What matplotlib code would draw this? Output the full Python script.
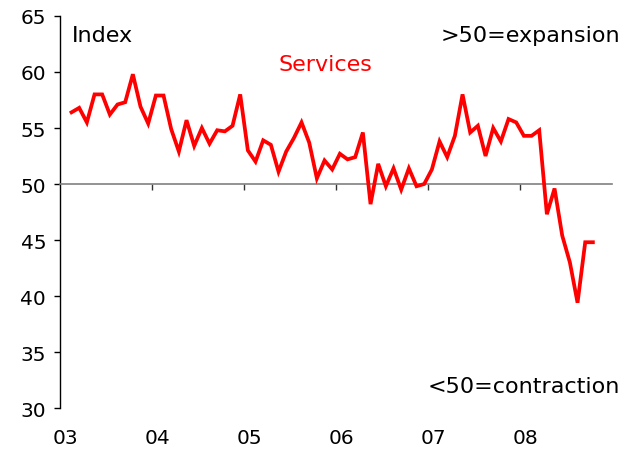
import matplotlib
matplotlib.use("Agg")
import matplotlib.pyplot as plt
import numpy as np

# Services PMI, monthly from Feb 2003 to Oct 2008
start_month = 1  # months after Jan 2003
pmi_2003 = [56.4, 56.8, 55.5, 58.0, 58.0, 56.2, 57.1, 57.3, 59.8, 56.9, 55.4]
pmi_2004 = [57.9, 57.9, 54.9, 52.9, 55.7, 53.4, 55.0, 53.6, 54.8, 54.7, 55.2, 58.0]
pmi_2005 = [53.0, 52.0, 53.9, 53.5, 51.1, 52.9, 54.1, 55.5, 53.7, 50.5, 52.1, 51.3]
pmi_2006 = [52.7, 52.2, 52.4, 54.6, 48.2, 51.8, 49.8, 51.4, 49.5, 51.4, 49.8, 50.0]
pmi_2007 = [51.3, 53.8, 52.4, 54.3, 58.0, 54.6, 55.2, 52.5, 55.0, 53.8, 55.8, 55.5]
pmi_2008 = [54.3, 54.3, 54.8, 47.3, 49.6, 45.4, 43.0, 39.4, 44.8, 44.8]

year_labels = ["03", "04", "05", "06", "07", "08"]
y_ticks = [30, 35, 40, 45, 50, 55, 60, 65]

values = pmi_2003 + pmi_2004 + pmi_2005 + pmi_2006 + pmi_2007 + pmi_2008
# plot each month at its mid point
months = start_month + np.arange(len(values)) + 0.5

FONT = "DejaVu Sans"
TICK_FS = 14.5
TEXT_FS = 16

fig = plt.figure(figsize=(6.22, 4.52), dpi=100)
ax = fig.add_axes([0.0965, 0.0951, 0.8875, 0.8673])

ax.plot(months, values, color="#FF0000", linewidth=2.7, solid_joinstyle="miter", zorder=3)

ax.set_xlim(0, 72)
ax.set_ylim(30, 65)

# x axis sits on the 50 line
ax.spines["top"].set_visible(False)
ax.spines["right"].set_visible(False)
ax.spines["bottom"].set_position(("data", 50))
ax.spines["bottom"].set_color("#808080")
ax.spines["bottom"].set_linewidth(1.2)
ax.spines["left"].set_linewidth(1.0)

ax.set_xticks(np.arange(12, 61, 12))
ax.tick_params(axis="x", direction="out", length=4, width=1, color="#333333",
               labelbottom=False)
ax.set_yticks(y_ticks)
ax.set_yticklabels([str(v) for v in y_ticks], fontsize=TICK_FS, family=FONT)
ax.tick_params(axis="y", direction="out", length=4, width=1, pad=6)

# year labels along the bottom
sec = ax.secondary_xaxis(-0.05)
sec.set_xticks(np.arange(0, 72, 12) + 0.7)
sec.set_xticklabels(year_labels, fontsize=TICK_FS, family=FONT)
sec.tick_params(length=0, pad=0)
sec.spines["bottom"].set_visible(False)

ax.text(0.022, 0.952, "Index", transform=ax.transAxes, ha="left", va="center",
        fontsize=TEXT_FS, family=FONT, color="black")
ax.text(1.014, 0.952, ">50=expansion", transform=ax.transAxes, ha="right", va="center",
        fontsize=TEXT_FS, family=FONT, color="black")
ax.text(0.481, 0.878, "Services", transform=ax.transAxes, ha="center", va="center",
        fontsize=TEXT_FS, family=FONT, color="#FF0000")
ax.text(1.014, 0.056, "<50=contraction", transform=ax.transAxes, ha="right", va="center",
        fontsize=TEXT_FS, family=FONT, color="black")

fig.savefig("out.png", dpi=100)
